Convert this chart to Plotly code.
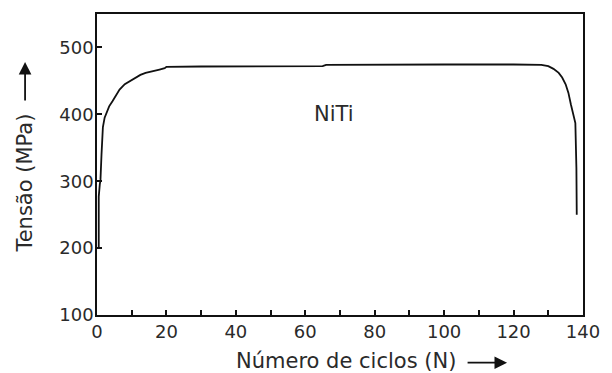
import plotly.graph_objects as go

cycles = [0.5, 0.5, 0.8, 1.0, 1.3, 1.7, 2.2, 2.7, 3.5, 4.5, 5.5, 6.5, 8, 9.5, 11, 12.5, 14, 16, 18, 19.5,
          20, 30, 40, 50, 60, 65, 66, 80, 100, 120, 128, 130, 131.5, 133, 134, 135, 135.8, 136.5,
          137.2, 137.8, 138.1, 138.2]
stress = [200, 277, 295, 302, 340, 381, 395, 402, 412, 420, 428, 437, 445, 450, 455, 459, 462, 465, 467, 469,
          471, 471.5, 471.5, 471.5, 471.5, 472, 474, 474.5, 474.5, 474.5, 474, 472, 468, 462, 455, 445, 432, 415,
          400, 387, 320, 250]

x_ticks = [0, 20, 40, 60, 80, 100, 120, 140]
y_ticks = [100, 200, 300, 400, 500]

FAM = "DejaVu Sans, sans-serif"
tick_font = dict(family=FAM, size=18, color="#2a2a2a")
title_font = dict(family=FAM, size=21, color="#2a2a2a")

fig = go.Figure()
fig.add_trace(go.Scatter(x=cycles, y=stress, mode="lines",
                         line=dict(color="#111", width=1.8), showlegend=False))

fig.add_annotation(x=68.3, y=400, text="NiTi", showarrow=False, font=title_font)

# axis titles
fig.add_annotation(xref="paper", yref="paper", x=0.5122, y=-0.1512, text="Número de ciclos (N)",
                   showarrow=False, xanchor="center", yanchor="middle", font=title_font)
fig.add_annotation(xref="paper", yref="paper", x=-0.148, y=0.4369, text="Tensão (MPa)",
                   textangle=-90, showarrow=False, xanchor="center", yanchor="middle", font=title_font)

# arrows next to the titles
fig.add_annotation(xref="paper", yref="paper", x=0.8438, y=-0.1585, ax=-41, ay=0, text="",
                   showarrow=True, arrowhead=2, arrowsize=1.4, arrowwidth=1.8, arrowcolor="#111")
fig.add_annotation(xref="paper", yref="paper", x=-0.148, y=0.8405, ax=0, ay=40, text="",
                   showarrow=True, arrowhead=2, arrowsize=1.4, arrowwidth=1.8, arrowcolor="#111")

fig.update_layout(
    width=612, height=373,
    margin=dict(l=97, r=22, t=14, b=58),
    paper_bgcolor="white", plot_bgcolor="white",
    font=tick_font,
    xaxis=dict(range=[0, 140], tickvals=x_ticks, ticks="inside", ticklen=5, tickwidth=1.5,
               tickcolor="#111", showline=True, linecolor="#111", linewidth=1.5, mirror=True,
               showgrid=False, zeroline=False, tickfont=tick_font,
               minor=dict(dtick=10, ticks="inside", ticklen=5, tickwidth=1.5, tickcolor="#111")),
    yaxis=dict(range=[100, 550], tickvals=y_ticks, ticks="inside", ticklen=5, tickwidth=1.5,
               tickcolor="#111", showline=True, linecolor="#111", linewidth=1.5, mirror=True,
               showgrid=False, zeroline=False, tickfont=tick_font, ticklabelstandoff=-2),
)

fig.write_html("out.html")
